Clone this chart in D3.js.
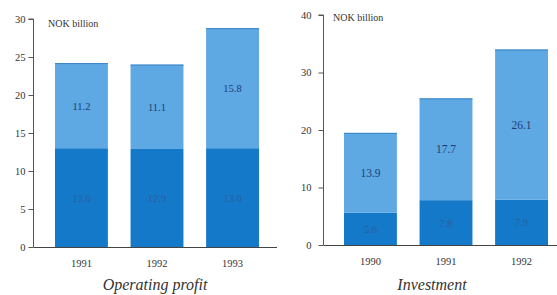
<!DOCTYPE html>
<html><head><meta charset="utf-8">
<script src="https://cdn.jsdelivr.net/npm/d3@7"></script>
<style>
html,body{margin:0;padding:0;background:#fff;}
svg{display:block;font-family:"Liberation Serif","DejaVu Serif",serif;}
</style></head>
<body><svg id="c" width="557" height="295"></svg>
<script>
// Operating profit panel
const profitYears = ["1991", "1992", "1993"];
const profitLower = [13.0, 12.9, 13.0];
const profitUpper = [11.2, 11.1, 15.8];
const profitTicks = [0, 5, 10, 15, 20, 25, 30];
// Investment panel
const investYears = ["1990", "1991", "1992"];
const investLower = [5.6, 7.8, 7.9];
const investUpper = [13.9, 17.7, 26.1];
const investTicks = [0, 10, 20, 30, 40];

const unitLabel = "NOK billion";
const titles = ["Operating profit", "Investment"];

const lightBlue = "#5ea8e4", darkBlue = "#1479c9";
const svg = d3.select("#c");

function panel(cfg) {
  const g = svg.append("g");
  const x = d3.scaleBand().domain(cfg.years).range([cfg.x0, cfg.x1]).paddingInner(0.3).paddingOuter(0);
  const y = d3.scaleLinear().domain([0, cfg.max]).range([cfg.y0, cfg.y1]);
  const data = cfg.years.map((yr, i) => ({yr, lo: cfg.lower[i], up: cfg.upper[i]}));

  // bars
  g.selectAll(".lo").data(data).enter().append("rect")
    .attr("x", d => x(d.yr)).attr("width", x.bandwidth())
    .attr("y", d => y(d.lo)).attr("height", d => y(0) - y(d.lo))
    .attr("fill", darkBlue);
  g.selectAll(".up").data(data).enter().append("rect")
    .attr("x", d => x(d.yr)).attr("width", x.bandwidth())
    .attr("y", d => y(d.lo + d.up)).attr("height", d => y(d.lo) - y(d.lo + d.up))
    .attr("fill", lightBlue);
  g.selectAll(".topline").data(data).enter().append("line")
    .attr("x1", d => x(d.yr)).attr("x2", d => x(d.yr) + x.bandwidth())
    .attr("y1", d => y(d.lo + d.up) + 0.5).attr("y2", d => y(d.lo + d.up) + 0.5)
    .attr("stroke", "#3a84c4").attr("stroke-width", 1);

  // value labels
  g.selectAll(".tl").data(data).enter().append("text")
    .attr("x", d => x(d.yr) + x.bandwidth() / 2)
    .attr("y", d => y(d.lo + d.up / 2) + 4)
    .attr("text-anchor", "middle").attr("font-size", cfg.labelSize)
    .attr("fill", "#1d3f72").text(d => d.up.toFixed(1));
  g.selectAll(".bl").data(data).enter().append("text")
    .attr("x", d => x(d.yr) + x.bandwidth() / 2)
    .attr("y", d => y(d.lo / 2) + 4)
    .attr("text-anchor", "middle").attr("font-size", 10.5)
    .attr("fill", "#2d5f9c").text(d => d.lo.toFixed(1));

  // y axis
  const ya = d3.axisLeft(y).tickValues(cfg.ticks).tickSize(5).tickPadding(cfg.tickPad).tickFormat(d3.format("d"));
  const yg = g.append("g").attr("transform", `translate(${cfg.ax},0)`).call(ya);
  yg.select(".domain").attr("stroke", "#555").attr("d", `M-5,${cfg.y1}H0V${cfg.y0}`);
  yg.selectAll(".tick line").attr("stroke", "#555");
  yg.selectAll("text").attr("font-size", 10.5).attr("fill", "#333")
    .attr("font-family", "'Liberation Serif',serif");

  // x axis baseline
  g.append("line").attr("x1", cfg.ax).attr("x2", cfg.xEnd)
    .attr("y1", y(0) + 0.5).attr("y2", y(0) + 0.5).attr("stroke", "#444");
  g.selectAll(".yr").data(cfg.years).enter().append("text")
    .attr("x", d => x(d) + x.bandwidth() / 2).attr("y", y(0) + 20)
    .attr("text-anchor", "middle").attr("font-size", 10.5).attr("fill", "#333").text(d => d);

  g.append("text").attr("x", cfg.unitX).attr("y", cfg.unitY)
    .attr("font-size", 10).attr("fill", "#333").text(unitLabel);
  g.append("text").attr("x", cfg.titleX).attr("y", 290)
    .attr("text-anchor", "middle").attr("font-size", 16).attr("font-style", "italic")
    .attr("fill", "#333").text(cfg.title);
}

panel({years: profitYears, lower: profitLower, upper: profitUpper, ticks: profitTicks, max: 30,
  x0: 55, x1: 259, ax: 33.5, xEnd: 277, y0: 247, y1: 19, tickPad: 3, labelSize: 10.5,
  unitX: 48, unitY: 27, titleX: 155, title: titles[0]});
panel({years: investYears, lower: investLower, upper: investUpper, ticks: investTicks, max: 40,
  x0: 344, x1: 548, ax: 323.5, xEnd: 557, y0: 245, y1: 15, tickPad: 7, labelSize: 11.5,
  unitX: 333, unitY: 21, titleX: 432, title: titles[1]});
</script></body></html>
